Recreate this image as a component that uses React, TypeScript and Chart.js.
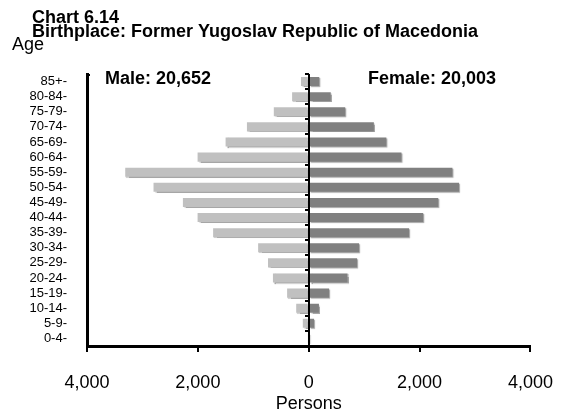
import React, { useEffect, useRef } from "react";
import { Chart, registerables } from "chart.js";

Chart.register(...registerables);

const ageGroups = [
  "85+-", "80-84-", "75-79-", "70-74-", "65-69-", "60-64-", "55-59-", "50-54-", "45-49-",
  "40-44-", "35-39-", "30-34-", "25-29-", "20-24-", "15-19-", "10-14-", "5-9-", "0-4-",
];
const maleValues = [140, 300, 630, 1115, 1500, 2005, 3310, 2800, 2270, 2005, 1725, 913, 735, 646, 390, 226, 107, 20];
const femaleValues = [190, 397, 658, 1175, 1400, 1673, 2592, 2711, 2337, 2065, 1810, 908, 872, 700, 367, 184, 95, 10];
const xTickValues = [-4000, -2000, 0, 2000, 4000];
const titleLines = ["Chart 6.14", "Birthplace: Former Yugoslav Republic of Macedonia"];
const maleLabel = "Male: 20,652";
const femaleLabel = "Female: 20,003";

const FONT = "'Liberation Sans', Arial, sans-serif";

const decorPlugin = {
  id: "decor",
  beforeDatasetsDraw(chart: any) {
    const ctx = chart.ctx;
    ctx.save();
    ctx.shadowColor = "rgba(0,0,0,0.35)";
    ctx.shadowOffsetX = 1;
    ctx.shadowOffsetY = 1;
    ctx.shadowBlur = 1;
  },
  afterDatasetsDraw(chart: any) {
    const ctx = chart.ctx;
    ctx.restore();
    const xs = chart.scales.x;
    const area = chart.chartArea;
    const x0 = Math.round(xs.getPixelForValue(0));
    ctx.save();
    ctx.strokeStyle = "#000";
    ctx.lineWidth = 2;
    ctx.beginPath();
    ctx.moveTo(x0, area.top);
    ctx.lineTo(x0, area.bottom);
    ctx.stroke();
    const n = ageGroups.length;
    const step = (area.bottom - area.top) / n;
    for (let i = 0; i <= n; i++) {
      const y = Math.round(area.top + i * step);
      ctx.beginPath();
      ctx.moveTo(x0 - 4, y);
      ctx.lineTo(x0, y);
      ctx.stroke();
    }
    ctx.beginPath();
    ctx.moveTo(area.left, area.top + 1);
    ctx.lineTo(area.left + 3, area.top + 1);
    ctx.stroke();
    ctx.restore();
  },
  afterDraw(chart: any) {
    const ctx = chart.ctx;
    ctx.save();
    ctx.fillStyle = "#000";
    ctx.textBaseline = "alphabetic";
    ctx.textAlign = "left";
    ctx.font = `bold 18px ${FONT}`;
    ctx.fillText(titleLines[0], 32, 23);
    ctx.fillText(titleLines[1], 32, 37);
    ctx.font = `18px ${FONT}`;
    ctx.fillText("Age", 12, 50);
    ctx.font = `bold 18px ${FONT}`;
    ctx.fillText(maleLabel, 105, 84);
    ctx.fillText(femaleLabel, 368, 84);
    ctx.restore();
  },
};

export default function App() {
  const ref = useRef<HTMLCanvasElement | null>(null);
  useEffect(() => {
    document.body.style.margin = "0";
    const canvas = ref.current!;
    const chart = new Chart(canvas, {
      type: "bar",
      data: {
        labels: ageGroups,
        datasets: [
          {
            label: "Male",
            data: maleValues.map((v) => -v),
            backgroundColor: "#c0c0c0",
            barPercentage: 0.6,
            categoryPercentage: 1,
          },
          {
            label: "Female",
            data: femaleValues,
            backgroundColor: "#808080",
            barPercentage: 0.6,
            categoryPercentage: 1,
          },
        ],
      },
      options: {
        indexAxis: "y",
        animation: false,
        responsive: false,
        maintainAspectRatio: false,
        layout: { padding: { top: 74, right: 37, left: 0, bottom: 0 } },
        plugins: {
          legend: { display: false },
          tooltip: { enabled: false },
          title: { display: false },
        },
        scales: {
          x: {
            type: "linear",
            stacked: true,
            min: -4000,
            max: 4000,
            afterBuildTicks: (scale: any) => {
              scale.ticks = xTickValues.map((v) => ({ value: v }));
            },
            afterFit: (scale: any) => {
              scale.height = 69;
            },
            ticks: {
              color: "#000",
              font: { family: FONT, size: 18 },
              padding: 20,
              callback: (v: any) => Math.abs(Number(v)).toLocaleString("en-US"),
            },
            grid: {
              display: true,
              drawOnChartArea: false,
              drawTicks: true,
              tickLength: 6,
              color: "#000",
              lineWidth: 2,
            },
            border: { display: true, color: "#000", width: 3 },
            title: {
              display: true,
              text: "Persons",
              color: "#000",
              font: { family: FONT, size: 18 },
              padding: { top: 0, bottom: 0 },
            },
          },
          y: {
            type: "category",
            stacked: true,
            afterFit: (scale: any) => {
              scale.width = 87;
            },
            ticks: {
              color: "#000",
              font: { family: FONT, size: 13 },
              padding: 20,
              autoSkip: false,
            },
            grid: { display: false, drawTicks: false },
            border: { display: true, color: "#000", width: 3 },
          },
        },
      },
      plugins: [decorPlugin],
    } as any);
    return () => chart.destroy();
  }, []);
  return <canvas ref={ref} width={573} height={415} style={{ display: "block" }} />;
}
